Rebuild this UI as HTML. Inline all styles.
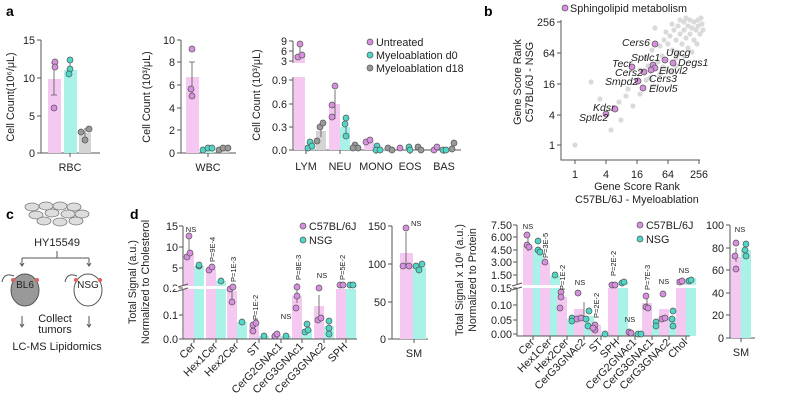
<!DOCTYPE html>
<html><head><meta charset="utf-8"><style>
body{margin:0;background:#fff;}
svg{display:block;font-family:"Liberation Sans",Arial,sans-serif;}
.t{font-size:10.8px;fill:#222}
.s{font-size:8px;fill:#222}
.p{font-size:7.5px;fill:#222}
.ax{stroke:#555;stroke-width:1;fill:none}
.pk{fill:#f5c8f2}.tl{fill:#a8f2e8}.gy{fill:#d4d4d4}
.dp{fill:#d98fe0;stroke:#555;stroke-width:.7}
.dt{fill:#4fd6c6;stroke:#555;stroke-width:.7}
.dg{fill:#999;stroke:#555;stroke-width:.7}
.eb{stroke:#555;stroke-width:.8}
.g{fill:#dadada}
.lb{font-size:10.5px;font-style:italic;fill:#222}
</style></head><body>
<svg width="800" height="413" viewBox="0 0 800 413">
<text x="6" y="16" font-size="14" font-weight="bold">a</text>
<text x="484" y="16" font-size="14" font-weight="bold">b</text>
<text x="6" y="219" font-size="14" font-weight="bold">c</text>
<text x="130" y="219" font-size="14" font-weight="bold">d</text>

<!-- RBC -->
<text class="t" transform="translate(14,97) rotate(-90)" text-anchor="middle">Cell Count(10⁶/μL)</text>
<path class="ax" d="M41,40V153H100M37,40H41M37,78H41M37,116H41M37,153H41M70,153V157"/>
<g class="t" text-anchor="end"><text x="35" y="44">15</text><text x="35" y="82">10</text><text x="35" y="120">5</text><text x="35" y="157">0</text></g>
<rect class="pk" x="48" y="79" width="13" height="74"/><rect class="tl" x="64" y="70" width="13" height="83"/><rect class="gy" x="79" y="133" width="12" height="20"/>
<path class="eb" d="M54,63V95M51,63H57M51,95H57M70,63V74M85,128V138"/>
<circle class="dp" cx="55" cy="62" r="3"/><circle class="dp" cx="55" cy="67" r="3"/><circle class="dp" cx="54" cy="108" r="3"/>
<circle class="dt" cx="70" cy="60" r="3"/><circle class="dt" cx="70" cy="69" r="3"/><circle class="dt" cx="69" cy="74" r="3"/>
<circle class="dg" cx="81" cy="132" r="3"/><circle class="dg" cx="89" cy="129" r="3"/><circle class="dg" cx="85" cy="140" r="3"/>
<text class="t" x="70" y="171" text-anchor="middle">RBC</text>

<!-- WBC -->
<text class="t" transform="translate(150,97) rotate(-90)" text-anchor="middle">Cell Count (10³/μL)</text>
<path class="ax" d="M181,40V153H236M177,40H181M177,62H181M177,85H181M177,108H181M177,130H181M177,153H181M208,153V157"/>
<g class="t" text-anchor="end"><text x="175" y="44">10</text><text x="175" y="66">8</text><text x="175" y="89">6</text><text x="175" y="112">4</text><text x="175" y="134">2</text><text x="175" y="157">0</text></g>
<rect class="pk" x="186" y="77" width="13" height="76"/><rect class="tl" x="202" y="149" width="12" height="4"/><rect class="gy" x="217" y="150" width="12" height="3"/>
<path class="eb" d="M192,62V95M189,62H195"/>
<circle class="dp" cx="192" cy="49" r="3"/><circle class="dp" cx="191" cy="89" r="3"/><circle class="dp" cx="192" cy="96" r="3"/>
<circle class="dt" cx="203" cy="150" r="3"/><circle class="dt" cx="208" cy="148" r="3"/><circle class="dt" cx="212" cy="148" r="3"/>
<circle class="dg" cx="219" cy="150" r="3"/><circle class="dg" cx="223" cy="148" r="3"/><circle class="dg" cx="228" cy="148" r="3"/>
<text class="t" x="208" y="171" text-anchor="middle">WBC</text>

<!-- blood cells -->
<text class="t" transform="translate(260,95) rotate(-90)" text-anchor="middle">Cell Count (10³/μL)</text>
<path class="ax" d="M293,41V63M289,41H293M289,51H293M289,61H293M293,77V150H461M289,80H293M289,104H293M289,127H293M289,150H293M306,150V154M340,150V154M376,150V154M410,150V154M444,150V154"/>
<g class="t" text-anchor="end"><text x="287" y="45">9</text><text x="287" y="55">6</text><text x="287" y="65">3</text><text x="287" y="84">0.9</text><text x="287" y="108">0.6</text><text x="287" y="131">0.3</text><text x="287" y="154">0.0</text></g>
<rect class="pk" x="294" y="77" width="11" height="73"/><rect class="pk" x="294" y="55" width="11" height="8"/>
<rect class="tl" x="305" y="145" width="10" height="5"/><rect class="gy" x="316" y="131" width="10" height="19"/>
<rect class="pk" x="329" y="104" width="11" height="46"/><rect class="tl" x="340" y="127" width="10" height="23"/><rect class="gy" x="351" y="147" width="10" height="3"/>
<rect class="pk" x="364" y="142" width="10" height="8"/><rect class="tl" x="374" y="148" width="10" height="2"/><rect class="gy" x="384" y="148" width="10" height="2"/>
<path class="eb" d="M300,44V57M335,90V119M346,125V137M321,125V137"/>
<circle class="dp" cx="300" cy="44" r="3"/><circle class="dp" cx="298" cy="57" r="3"/><circle class="dp" cx="302" cy="55" r="3"/>
<circle class="dt" cx="310" cy="142" r="3"/><circle class="dt" cx="308" cy="148" r="3"/><circle class="dt" cx="312" cy="146" r="3"/>
<circle class="dg" cx="320" cy="127" r="3"/><circle class="dg" cx="323" cy="123" r="3"/><circle class="dg" cx="317" cy="141" r="3"/>
<circle class="dp" cx="335" cy="86" r="3"/><circle class="dp" cx="332" cy="105" r="3"/><circle class="dp" cx="332" cy="117" r="3"/>
<circle class="dt" cx="346" cy="118" r="3"/><circle class="dt" cx="345" cy="124" r="3"/><circle class="dt" cx="346" cy="136" r="3"/>
<circle class="dg" cx="355" cy="145" r="3"/><circle class="dg" cx="358" cy="148" r="3"/><circle class="dg" cx="353" cy="148" r="3"/>
<circle class="dp" cx="366" cy="142" r="3"/><circle class="dp" cx="370" cy="140" r="3"/><circle class="dt" cx="377" cy="146" r="3"/><circle class="dt" cx="376" cy="150" r="3"/><circle class="dt" cx="380" cy="150" r="3"/>
<circle class="dg" cx="388" cy="148" r="3"/><circle class="dg" cx="392" cy="150" r="3"/>
<circle class="dp" cx="400" cy="148" r="3"/><circle class="dt" cx="409" cy="147" r="3"/><circle class="dt" cx="410" cy="150" r="3"/><circle class="dg" cx="418" cy="147" r="3"/><circle class="dg" cx="421" cy="150" r="3"/>
<circle class="dp" cx="434" cy="150" r="3"/><circle class="dp" cx="437" cy="147" r="3"/><circle class="dt" cx="443" cy="150" r="3"/><circle class="dt" cx="446" cy="150" r="3"/><circle class="dg" cx="452" cy="149" r="3"/><circle class="dg" cx="454" cy="143" r="3"/>
<g class="t" text-anchor="middle"><text x="306" y="170">LYM</text><text x="340" y="170">NEU</text><text x="376" y="170">MONO</text><text x="410" y="170">EOS</text><text x="444" y="170">BAS</text></g>
<circle class="dp" cx="370" cy="42" r="3"/><text class="t" x="376" y="46">Untreated</text>
<circle class="dt" cx="370" cy="55" r="3"/><text class="t" x="376" y="59">Myeloablation d0</text>
<circle class="dg" cx="370" cy="68" r="3"/><text class="t" x="376" y="72">Myeloablation d18</text>

<!-- b scatter -->
<circle class="dp" cx="565" cy="8" r="3"/><text class="t" x="570" y="12" font-size="11">Sphingolipid metabolism</text>
<text class="t" transform="translate(521,82) rotate(-90)" text-anchor="middle">Gene Score Rank</text>
<text class="t" transform="translate(533,82) rotate(-90)" text-anchor="middle">C57BL/6J - NSG</text>
<path class="ax" d="M561,20V160H700M557,22H561M557,53H561M557,84H561M557,115H561M557,145H561M575,160V164M606,160V164M637,160V164M668,160V164M699,160V164"/>
<g class="t" text-anchor="end"><text x="555" y="26">256</text><text x="555" y="57">64</text><text x="555" y="88">16</text><text x="555" y="119">4</text><text x="555" y="149">1</text></g>
<g class="t" text-anchor="middle"><text x="575" y="178">1</text><text x="606" y="178">4</text><text x="637" y="178">16</text><text x="668" y="178">64</text><text x="699" y="178">256</text>
<text x="637" y="190">Gene Score Rank</text><text x="637" y="203">C57BL/6J - Myeloablation</text></g>
<g class="g">
<circle cx="575" cy="145" r="2.6"/><circle cx="591" cy="82" r="2.6"/><circle cx="600" cy="99" r="2.6"/><circle cx="611" cy="130" r="2.6"/><circle cx="619" cy="102" r="2.6"/><circle cx="621" cy="120" r="2.6"/><circle cx="626" cy="96" r="2.6"/><circle cx="628" cy="89" r="2.6"/><circle cx="633" cy="106" r="2.6"/><circle cx="640" cy="94" r="2.6"/><circle cx="646" cy="80" r="2.6"/><circle cx="655" cy="28" r="2.6"/><circle cx="650" cy="78" r="2.6"/><circle cx="654" cy="86" r="2.6"/><circle cx="660" cy="74" r="2.6"/><circle cx="663" cy="67" r="2.6"/><circle cx="667" cy="70" r="2.6"/><circle cx="672" cy="72" r="2.6"/><circle cx="676" cy="66" r="2.6"/><circle cx="678" cy="54" r="2.6"/>
<circle cx="660" cy="46" r="2.6"/><circle cx="664" cy="40" r="2.6"/><circle cx="668" cy="44" r="2.6"/><circle cx="670" cy="36" r="2.6"/><circle cx="672" cy="50" r="2.6"/><circle cx="674" cy="30" r="2.6"/><circle cx="676" cy="40" r="2.6"/><circle cx="678" cy="26" r="2.6"/><circle cx="680" cy="34" r="2.6"/><circle cx="682" cy="44" r="2.6"/><circle cx="684" cy="22" r="2.6"/><circle cx="684" cy="30" r="2.6"/><circle cx="686" cy="38" r="2.6"/><circle cx="688" cy="26" r="2.6"/><circle cx="688" cy="48" r="2.6"/><circle cx="690" cy="20" r="2.6"/><circle cx="690" cy="34" r="2.6"/><circle cx="692" cy="28" r="2.6"/><circle cx="694" cy="22" r="2.6"/><circle cx="694" cy="40" r="2.6"/><circle cx="696" cy="30" r="2.6"/><circle cx="698" cy="20" r="2.6"/><circle cx="698" cy="26" r="2.6"/><circle cx="700" cy="34" r="2.6"/><circle cx="701" cy="18" r="2.6"/><circle cx="702" cy="24" r="2.6"/><circle cx="703" cy="30" r="2.6"/><circle cx="697" cy="44" r="2.6"/><circle cx="692" cy="52" r="2.6"/><circle cx="684" cy="56" r="2.6"/><circle cx="662" cy="56" r="2.6"/><circle cx="666" cy="60" r="2.6"/><circle cx="658" cy="62" r="2.6"/><circle cx="652" cy="50" r="2.6"/><circle cx="646" cy="58" r="2.6"/><circle cx="640" cy="70" r="2.6"/><circle cx="648" cy="66" r="2.6"/><circle cx="680" cy="20" r="2.6"/><circle cx="686" cy="18" r="2.6"/><circle cx="672" cy="24" r="2.6"/><circle cx="666" cy="32" r="2.6"/><circle cx="676" cy="58" r="2.6"/>
</g>
<g class="dp">
<circle cx="655" cy="44" r="3"/><circle cx="665" cy="60" r="3"/><circle cx="673" cy="63" r="3"/><circle cx="653" cy="65" r="3"/><circle cx="632" cy="67" r="3"/><circle cx="655" cy="68" r="3"/><circle cx="651" cy="70" r="3"/><circle cx="644" cy="72" r="3"/><circle cx="638" cy="81" r="3"/><circle cx="643" cy="88" r="3"/><circle cx="615" cy="109" r="3"/><circle cx="606" cy="114" r="3"/></g>
<g class="lb"><text x="650" y="46" text-anchor="end">Cers6</text><text x="666" y="56">Ugcg</text><text x="678" y="66">Degs1</text><text x="631" y="61">Sptlc1</text><text x="612" y="67">Tecr</text><text x="659" y="74">Elovl2</text><text x="615" y="76">Cers2</text><text x="649" y="82">Cers3</text><text x="605" y="85">Smpd2</text><text x="649" y="92">Elovl5</text><text x="593" y="111">Kdsr</text><text x="579" y="121">Sptlc2</text></g>

<!-- c schematic -->
<g fill="#ddd" stroke="#777" stroke-width=".8">
<ellipse cx="32" cy="207" rx="7" ry="4"/><ellipse cx="46" cy="206" rx="7" ry="4"/><ellipse cx="60" cy="206" rx="7" ry="4"/><ellipse cx="74" cy="207" rx="7" ry="4"/>
<ellipse cx="36" cy="215" rx="7" ry="4"/><ellipse cx="52" cy="213" rx="7" ry="4"/><ellipse cx="68" cy="214" rx="7" ry="4"/><ellipse cx="82" cy="214" rx="7" ry="4"/>
<ellipse cx="44" cy="221" rx="7" ry="4"/><ellipse cx="60" cy="222" rx="7" ry="4"/><ellipse cx="76" cy="221" rx="7" ry="4"/></g>
<text x="57" y="246" font-size="11" text-anchor="middle" fill="#222">HY15549</text>
<path class="ax" d="M57,251V258M22,258H89M22,258V266M89,258V266M20,263L22,266L24,263M87,263L89,266L91,263"/>
<ellipse cx="25" cy="290" rx="14" ry="16" fill="#999" stroke="#555"/>
<path d="M14,276Q4,272 2,282" class="ax"/>
<text x="25" y="288" font-size="10" text-anchor="middle" fill="#222">BL6</text>
<circle cx="13" cy="280" r="2" fill="#e06060"/><circle cx="37" cy="280" r="2" fill="#e06060"/>
<ellipse cx="88" cy="290" rx="14" ry="16" fill="#fff" stroke="#555"/>
<path d="M77,276Q67,272 65,282" class="ax"/>
<text x="88" y="288" font-size="10" text-anchor="middle" fill="#222">NSG</text>
<circle cx="76" cy="280" r="2" fill="#e06060"/><circle cx="100" cy="280" r="2" fill="#e06060"/>
<path class="ax" d="M22,316V327M20,324L22,327L24,324M89,316V327M87,324L89,327L91,324"/>
<text x="55" y="322" font-size="11" text-anchor="middle" fill="#222">Collect</text>
<text x="55" y="333" font-size="11" text-anchor="middle" fill="#222">tumors</text>
<text x="57" y="350" font-size="11" text-anchor="middle" fill="#222">LC-MS Lipidomics</text>

<!-- d left -->
<text class="t" transform="translate(136,282) rotate(-90)" text-anchor="middle">Total Signal (a.u.)</text>
<text class="t" transform="translate(149,282) rotate(-90)" text-anchor="middle">Normalized to Cholesterol</text>
<g class="t" text-anchor="end"><text x="178" y="230">15</text><text x="178" y="251">10</text><text x="178" y="272">5</text><text x="178" y="292">0.2</text><text x="178" y="319">0.1</text><text x="178" y="343">0.0</text></g>
<g>
<rect class="pk" x="184" y="254" width="10" height="85"/><rect class="tl" x="194" y="266" width="10" height="73"/>
<rect class="pk" x="206" y="269" width="10" height="70"/><rect class="tl" x="216" y="281" width="10" height="58"/>
<rect class="pk" x="227" y="291" width="10" height="48"/><rect class="tl" x="237" y="322" width="10" height="17"/>
<rect class="pk" x="249" y="326" width="10" height="13"/><rect class="tl" x="259" y="336" width="10" height="3"/>
<rect class="pk" x="271" y="335" width="10" height="4"/><rect class="tl" x="281" y="336" width="10" height="3"/>
<rect class="pk" x="292" y="296" width="10" height="43"/><rect class="tl" x="302" y="329" width="10" height="10"/>
<rect class="pk" x="314" y="306" width="10" height="33"/><rect class="tl" x="324" y="326" width="10" height="13"/>
<rect class="pk" x="336" y="286" width="10" height="53"/><rect class="tl" x="346" y="286" width="10" height="53"/>
</g>
<rect x="175" y="286" width="185" height="3" fill="#fff"/>
<path class="ax" d="M183,226V285M183,290V339H357M179,226H183M179,247H183M179,268H183M179,288H183M179,315H183M179,339H183M178,287L188,284M178,291L188,288"/>
<path class="ax" d="M194,339V343M216,339V343M237,339V343M259,339V343M281,339V343M302,339V343M324,339V343M346,339V343"/>
<path class="eb" d="M189,237V258M211,267V271M232,286V300M297,283V303M319,295V322"/>
<circle class="dp" cx="189" cy="236" r="3"/><circle class="dp" cx="187" cy="257" r="3"/><circle class="dp" cx="190" cy="253" r="3"/><circle class="dt" cx="199" cy="266" r="3"/><circle class="dt" cx="199" cy="265" r="3"/>
<circle class="dp" cx="209" cy="270" r="3"/><circle class="dp" cx="212" cy="267" r="3"/><circle class="dt" cx="221" cy="281" r="3"/>
<circle class="dp" cx="230" cy="289" r="3"/><circle class="dp" cx="233" cy="287" r="3"/><circle class="dp" cx="232" cy="302" r="3"/><circle class="dt" cx="242" cy="322" r="3"/>
<circle class="dp" cx="253" cy="325" r="3"/><circle class="dp" cx="256" cy="323" r="3"/><circle class="dp" cx="253" cy="331" r="3"/><circle class="dt" cx="264" cy="336" r="3"/>
<circle class="dp" cx="275" cy="336" r="3"/><circle class="dp" cx="277" cy="334" r="3"/><circle class="dt" cx="286" cy="336" r="3"/>
<circle class="dp" cx="297" cy="287" r="3"/><circle class="dp" cx="297" cy="296" r="3"/><circle class="dp" cx="296" cy="308" r="3"/><circle class="dt" cx="307" cy="324" r="3"/><circle class="dt" cx="305" cy="332" r="3"/><circle class="dt" cx="308" cy="330" r="3"/>
<circle class="dp" cx="319" cy="288" r="3"/><circle class="dp" cx="318" cy="320" r="3"/><circle class="dp" cx="321" cy="318" r="3"/><circle class="dt" cx="329" cy="321" r="3"/><circle class="dt" cx="329" cy="328" r="3"/><circle class="dt" cx="329" cy="334" r="3"/>
<circle class="dp" cx="340" cy="285" r="3"/><circle class="dp" cx="343" cy="285" r="3"/><circle class="dt" cx="350" cy="285" r="3"/><circle class="dt" cx="353" cy="285" r="3"/>
<g class="p"><text x="191" y="232" text-anchor="middle">NS</text><text x="286" y="319" text-anchor="middle">NS</text><text x="322" y="278" text-anchor="middle">NS</text>
<text transform="translate(215,262) rotate(-90)">P=9E-4</text><text transform="translate(236,282) rotate(-90)">P=1E-3</text><text transform="translate(258,320) rotate(-90)">P=1E-2</text><text transform="translate(301,280) rotate(-90)">P=8E-3</text><text transform="translate(345,280) rotate(-90)">P=5E-2</text></g>
<g class="t" text-anchor="end">
<text transform="translate(196,347) rotate(-45)">Cer</text><text transform="translate(218,347) rotate(-45)">Hex1Cer</text><text transform="translate(239,347) rotate(-45)">Hex2Cer</text><text transform="translate(261,347) rotate(-45)">ST</text><text transform="translate(283,347) rotate(-45)">CerG2GNAc1</text><text transform="translate(304,347) rotate(-45)">CerG3GNAc1</text><text transform="translate(326,347) rotate(-45)">CerG3GNAc2</text><text transform="translate(348,347) rotate(-45)">SPH</text></g>
<circle class="dp" cx="303" cy="226" r="3"/><text class="t" x="309" y="230">C57BL/6J</text>
<circle class="dt" cx="303" cy="240" r="3"/><text class="t" x="309" y="244">NSG</text>

<!-- d SM left -->
<path class="ax" d="M392,226V339H428M388,226H392M388,264H392M388,302H392M388,339H392M414,339V343"/>
<g class="t" text-anchor="end"><text x="386" y="230">150</text><text x="386" y="268">100</text><text x="386" y="306">50</text><text x="386" y="343">0</text></g>
<rect class="pk" x="400" y="253" width="13" height="86"/><rect class="tl" x="413" y="267" width="13" height="72"/>
<path class="eb" d="M406,232V265"/>
<circle class="dp" cx="406" cy="228" r="3"/><circle class="dp" cx="403" cy="266" r="3"/><circle class="dp" cx="409" cy="266" r="3"/><circle class="dt" cx="416" cy="266" r="3"/><circle class="dt" cx="422" cy="264" r="3"/><circle class="dt" cx="419" cy="270" r="3"/>
<text class="p" x="411" y="226">NS</text>
<text class="t" x="414" y="357" text-anchor="middle">SM</text>

<!-- d right -->
<text class="t" transform="translate(463,280) rotate(-90)" text-anchor="middle">Total Signal x 10⁸ (a.u.)</text>
<text class="t" transform="translate(476,280) rotate(-90)" text-anchor="middle">Normalized to Protein</text>
<g class="t" text-anchor="end"><text x="512" y="229">7.50</text><text x="512" y="241">6.00</text><text x="512" y="254">4.50</text><text x="512" y="266">3.00</text><text x="512" y="279">1.50</text><text x="512" y="292">0.15</text><text x="512" y="309">0.10</text><text x="512" y="324">0.05</text><text x="512" y="338">0.00</text></g>
<g>
<rect class="pk" x="523" y="246" width="10" height="90"/><rect class="tl" x="533" y="249" width="10" height="87"/>
<rect class="pk" x="540" y="263" width="10" height="73"/><rect class="tl" x="550" y="276" width="10" height="60"/>
<rect class="pk" x="557" y="297" width="10" height="39"/><rect class="tl" x="567" y="319" width="10" height="17"/>
<rect class="pk" x="574" y="309" width="10" height="27"/><rect class="tl" x="584" y="316" width="10" height="20"/>
<rect class="pk" x="591" y="325" width="10" height="11"/><rect class="tl" x="601" y="334" width="10" height="2"/>
<rect class="pk" x="608" y="283" width="10" height="53"/><rect class="tl" x="618" y="282" width="10" height="54"/>
<rect class="pk" x="625" y="333" width="10" height="3"/><rect class="tl" x="635" y="334" width="10" height="2"/>
<rect class="pk" x="642" y="303" width="10" height="33"/><rect class="tl" x="652" y="325" width="10" height="11"/>
<rect class="pk" x="659" y="309" width="10" height="27"/><rect class="tl" x="669" y="318" width="10" height="18"/>
<rect class="pk" x="676" y="279" width="10" height="57"/><rect class="tl" x="686" y="278" width="10" height="58"/>
</g>
<rect x="510" y="285" width="190" height="3" fill="#fff"/>
<path class="ax" d="M517,225V284M517,289V336H690M513,225H517M513,237H517M513,250H517M513,262H517M513,275H517M513,288H517M513,305H517M513,320H517M513,334H517M512,286L522,283M512,290L522,287"/>
<path class="ax" d="M533,336V340M550,336V340M567,336V340M584,336V340M601,336V340M618,336V340M635,336V340M652,336V340M669,336V340M686,336V340"/>
<path class="eb" d="M528,237V251M584,302V318M647,297V308"/>
<circle class="dp" cx="527" cy="235" r="3"/><circle class="dp" cx="527" cy="245" r="3"/><circle class="dp" cx="529" cy="247" r="3"/><circle class="dt" cx="538" cy="241" r="3"/><circle class="dt" cx="538" cy="250" r="3"/><circle class="dt" cx="540" cy="252" r="3"/>
<circle class="dp" cx="545" cy="262" r="3"/><circle class="dt" cx="555" cy="275" r="3"/>
<circle class="dp" cx="561" cy="292" r="3"/><circle class="dp" cx="561" cy="297" r="3"/><circle class="dp" cx="560" cy="308" r="3"/><circle class="dt" cx="572" cy="318" r="3"/><circle class="dt" cx="572" cy="321" r="3"/>
<circle class="dp" cx="578" cy="293" r="3"/><circle class="dp" cx="577" cy="319" r="3"/><circle class="dp" cx="581" cy="318" r="3"/><circle class="dt" cx="589" cy="311" r="3"/><circle class="dt" cx="586" cy="319" r="3"/><circle class="dt" cx="588" cy="326" r="3"/>
<circle class="dp" cx="595" cy="325" r="3"/><circle class="dp" cx="595" cy="330" r="3"/><circle class="dp" cx="593" cy="328" r="3"/><circle class="dt" cx="605" cy="334" r="3"/>
<circle class="dp" cx="612" cy="285" r="3"/><circle class="dp" cx="615" cy="285" r="3"/><circle class="dt" cx="622" cy="283" r="3"/><circle class="dt" cx="624" cy="282" r="3"/>
<circle class="dp" cx="629" cy="332" r="3"/><circle class="dp" cx="631" cy="333" r="3"/><circle class="dt" cx="638" cy="334" r="3"/><circle class="dt" cx="641" cy="334" r="3"/>
<circle class="dp" cx="646" cy="296" r="3"/><circle class="dp" cx="646" cy="307" r="3"/><circle class="dp" cx="648" cy="308" r="3"/><circle class="dt" cx="656" cy="322" r="3"/><circle class="dt" cx="656" cy="326" r="3"/>
<circle class="dp" cx="663" cy="294" r="3"/><circle class="dp" cx="662" cy="319" r="3"/><circle class="dp" cx="665" cy="318" r="3"/><circle class="dt" cx="673" cy="311" r="3"/><circle class="dt" cx="672" cy="319" r="3"/><circle class="dt" cx="673" cy="326" r="3"/>
<circle class="dp" cx="680" cy="282" r="3"/><circle class="dp" cx="682" cy="281" r="3"/><circle class="dt" cx="689" cy="281" r="3"/><circle class="dt" cx="691" cy="280" r="3"/>
<g class="p" text-anchor="middle"><text x="528" y="229">NS</text><text x="580" y="285">NS</text><text x="630" y="322">NS</text><text x="664" y="284">NS</text><text x="684" y="273">NS</text></g>
<g class="p"><text transform="translate(548,258) rotate(-90)">P=3E-5</text><text transform="translate(565,290) rotate(-90)">P=1E-2</text><text transform="translate(599,318) rotate(-90)">P=2E-2</text><text transform="translate(616,276) rotate(-90)">P=2E-2</text><text transform="translate(650,290) rotate(-90)">P=7E-3</text></g>
<g class="t" text-anchor="end">
<text transform="translate(535,343) rotate(-45)">Cer</text><text transform="translate(552,343) rotate(-45)">Hex1Cer</text><text transform="translate(569,343) rotate(-45)">Hex2Cer</text><text transform="translate(586,343) rotate(-45)">CerG3GNAc2</text><text transform="translate(603,343) rotate(-45)">ST</text><text transform="translate(620,343) rotate(-45)">SPH</text><text transform="translate(637,343) rotate(-45)">CerG2GNAc1</text><text transform="translate(654,343) rotate(-45)">CerG3GNAc1</text><text transform="translate(671,343) rotate(-45)">CerG3GNAc2</text><text transform="translate(688,343) rotate(-45)">Chol</text></g>
<circle class="dp" cx="640" cy="225" r="3"/><text class="t" x="646" y="229">C57BL/6J</text>
<circle class="dt" cx="640" cy="239" r="3"/><text class="t" x="646" y="243">NSG</text>

<!-- d SM right -->
<path class="ax" d="M730,225V338H755M726,225H730M726,248H730M726,270H730M726,293H730M726,315H730M726,338H730M741,338V342"/>
<g class="t" text-anchor="end"><text x="724" y="229">100</text><text x="724" y="252">80</text><text x="724" y="274">60</text><text x="724" y="297">40</text><text x="724" y="319">20</text><text x="724" y="342">0</text></g>
<rect class="pk" x="731" y="257" width="10" height="81"/><rect class="tl" x="741" y="250" width="10" height="88"/>
<path class="eb" d="M736,248V262M746,246V254"/>
<circle class="dp" cx="736" cy="243" r="3"/><circle class="dp" cx="735" cy="256" r="3"/><circle class="dp" cx="736" cy="269" r="3"/><circle class="dt" cx="746" cy="244" r="3"/><circle class="dt" cx="745" cy="250" r="3"/><circle class="dt" cx="746" cy="256" r="3"/>
<text class="p" x="740" y="232" text-anchor="middle">NS</text>
<text class="t" x="741" y="356" text-anchor="middle">SM</text>
</svg>
</body></html>
